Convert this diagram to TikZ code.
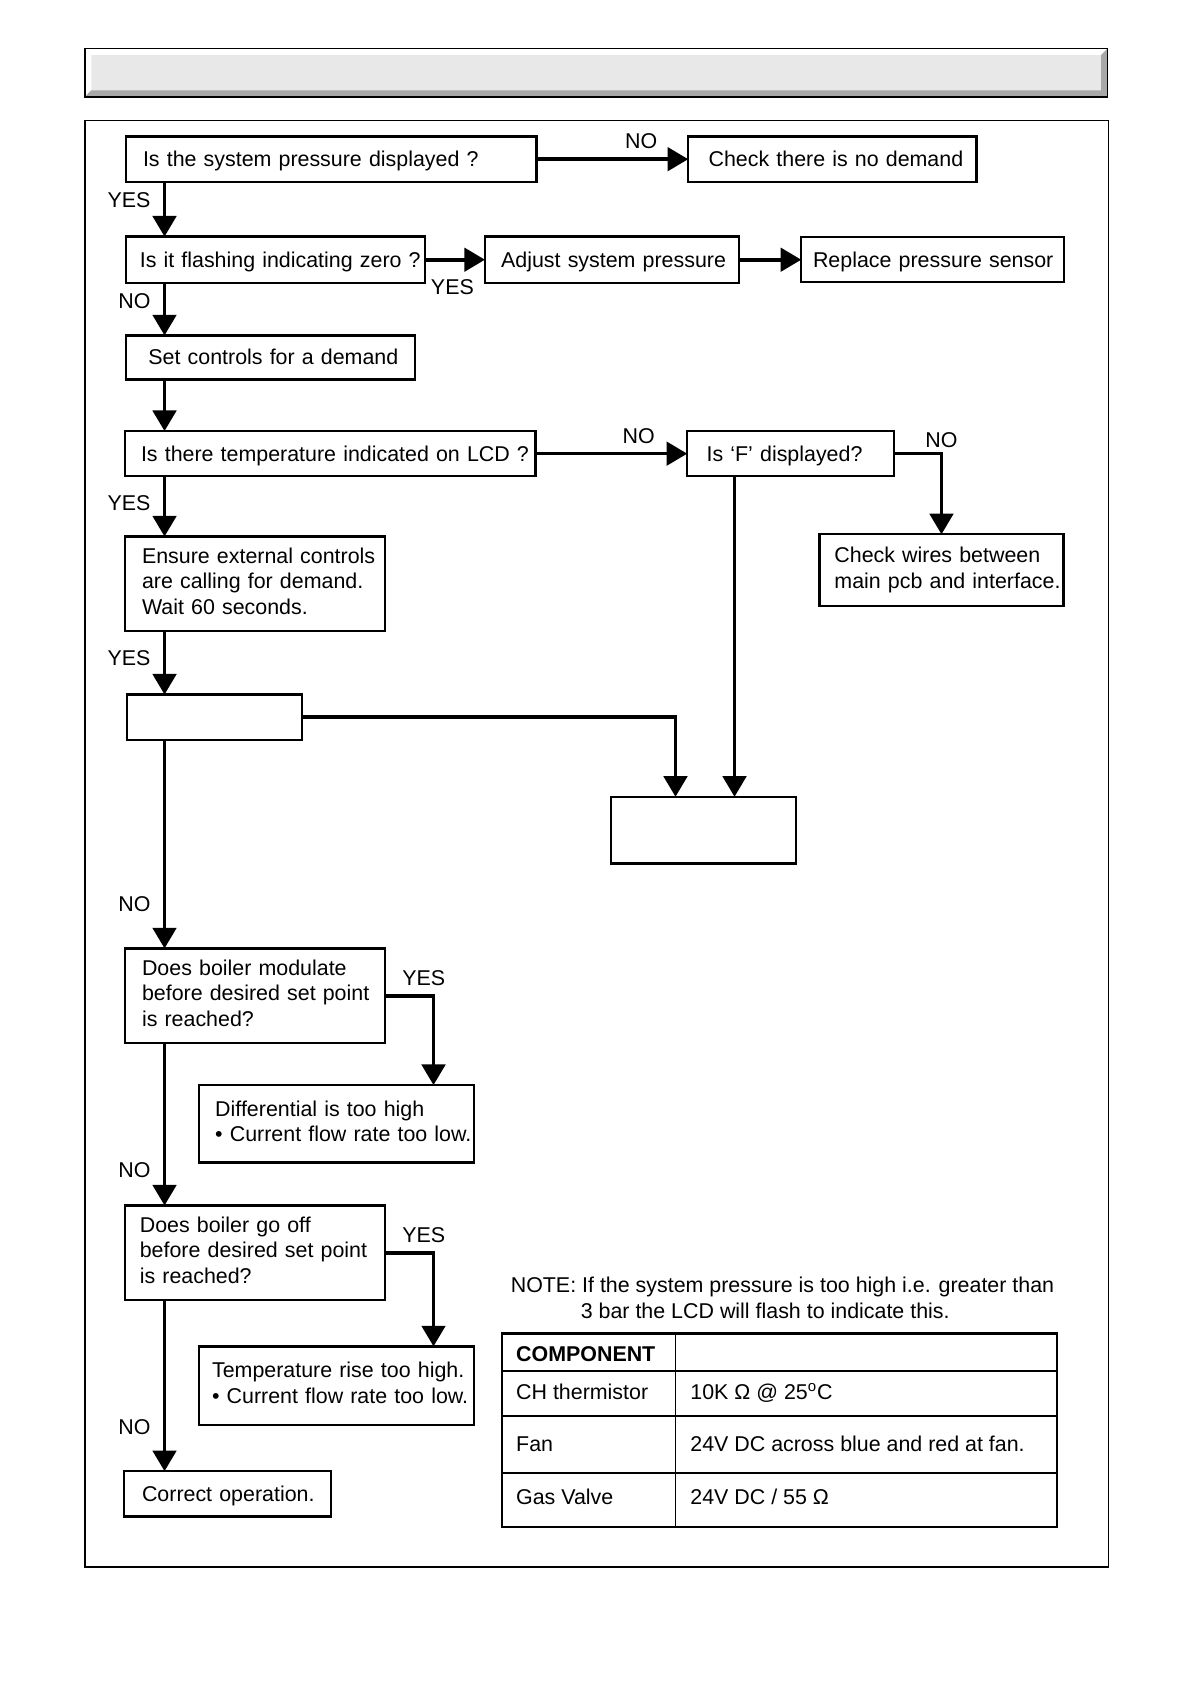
\documentclass[tikz,border=0pt]{standalone}
\usepackage{fontspec}
\setmainfont{Liberation Sans}
\usepackage{tikz}
\usetikzlibrary{positioning}
\usetikzlibrary{arrows.meta}
\definecolor{panelgrey}{HTML}{E8E8E8}
\definecolor{shadegrey}{HTML}{A8A8A8}
\tikzstyle{block} = [rectangle, draw=black, fill=white, line width=1.15pt,
inner ysep=0pt, outer sep=0pt, font=\fontsize{10.7}{12.9}\selectfont]
\tikzstyle{oneline} = [text height=11.6pt, text depth=3.8pt]
\tikzstyle{blank} = [rectangle, draw=black, fill=white, line width=1.15pt, inner sep=0pt, outer sep=0pt]
\tikzstyle{answer} = [inner sep=0pt, outer sep=0pt, font=\fontsize{10.7}{12.9}\selectfont]
\tikzstyle{cell} = [inner sep=0pt, outer sep=0pt, anchor=base west,
font=\fontsize{10.7}{12.9}\selectfont]
\tikzstyle{flow} = [->, line width=1.8pt]
\tikzset{>={Triangle[length=10.3pt,width=11.7pt]}}
% left aligned lines that never wrap inside a block
\newcommand{\boxlines}[1]{\noindent\begin{tabular}{@{}l@{}}#1\end{tabular}}

\begin{document}
\begin{tikzpicture}[x=0.5375pt, y=-0.5375pt]
				\useasboundingbox (0,0) rectangle (1107,1566);
				% title bar
				\fill[panelgrey] (79,45) rectangle (1030,90);
				\fill[white] (79,45) -- (1030,45) -- (1024,51) -- (85,51) -- (85,84) -- (79,90) -- cycle;
				\fill[shadegrey] (1030,45) -- (1030,90) -- (79,90) -- (85,84) -- (1024,84) -- (1024,51) -- cycle;
				\draw[line width=0.8pt] (79,45) rectangle (1030,90);
				\draw[line width=0.7pt] (79,112) rectangle (1031,1457);
				\coordinate (trunk) at (153,0);

				\node[block, oneline, anchor=north west, text width=188.1pt, inner xsep=8.6pt, minimum height=22.6pt] (sysp) at (117,127) {\boxlines{Is the system pressure displayed ?}}; %
				\node[block, oneline, right=75.8pt of sysp, text width=123.7pt, inner xsep=10.2pt, minimum height=22.6pt] (nodemand) {\boxlines{Check there is no demand}}; %
				\node[block, oneline, below=27.4pt of sysp.south west, anchor=north west, text width=135.4pt, inner xsep=7pt, minimum height=23.1pt] (flash) {\boxlines{Is it flashing indicating zero ?}}; %
				\node[block, oneline, right=30.1pt of flash, text width=110.7pt, inner xsep=8.1pt, minimum height=23.1pt] (adjust) {\boxlines{Adjust system pressure}}; %
				\node[block, oneline, right=31.2pt of adjust, text width=119.4pt, inner xsep=5.9pt, minimum height=22.6pt] (sensor) {\boxlines{Replace pressure sensor}}; %
				\node[block, oneline, below=26.3pt of flash.south west, anchor=north west, text width=122pt, inner xsep=11.3pt, minimum height=22pt] (setctl) {\boxlines{Set controls for a demand}}; %
				\node[block, oneline, below=25.8pt of setctl.south west, anchor=north west, xshift=-0.5pt, text width=189.1pt, inner xsep=8.1pt, minimum height=22.6pt] (templcd) {\boxlines{Is there temperature indicated on LCD ?}}; %
				\node[block, oneline, right=75.8pt of templcd, text width=83.8pt, inner xsep=9.7pt, minimum height=22.6pt] (fdisp) {\boxlines{Is ‘F’ displayed?}}; %
				\node[block, below=29pt of fdisp.south east, anchor=north east, xshift=84.9pt, text width=107pt, inner xsep=7.5pt, minimum height=36pt] (wires) {\boxlines{Check wires between\\main pcb and interface.}}; %
				\node[block, below=30.1pt of templcd.south west, anchor=north west, text width=112.9pt, inner xsep=8.6pt, minimum height=47.3pt] (ensure) {\boxlines{Ensure external controls\\are calling for demand.\\Wait 60 seconds.}}; %
				\node[blank, below=31.7pt of ensure.south west, anchor=north west, xshift=1.1pt, minimum width=87.6pt, minimum height=22.6pt] (check1) {}; %
				\node[blank, below=28.5pt of check1.south west, anchor=north west, xshift=241.9pt, minimum width=92.5pt, minimum height=33.3pt] (check2) {}; %
				\node[block, below=104.3pt of check1.south west, anchor=north west, xshift=-1.1pt, text width=112.9pt, inner xsep=8.6pt, minimum height=47.3pt] (modulate) {\boxlines{Does boiler modulate\\before desired set point\\is reached?}}; %
				\node[block, below=21pt of modulate.south west, anchor=north west, xshift=37.1pt, text width=121.4pt, inner xsep=8.1pt, minimum height=38.7pt] (diff) {\boxlines{Differential is too high\\• Current flow rate too low.}}; %
				\node[block, below=81.2pt of modulate.south west, anchor=north west, text width=115.1pt, inner xsep=7.5pt, minimum height=47.3pt] (gooff) {\boxlines{Does boiler go off\\before desired set point\\is reached?}}; %
				\node[block, below=23.1pt of gooff.south west, anchor=north west, xshift=37.1pt, text width=124.6pt, inner xsep=6.5pt, minimum height=39.2pt] (temprise) {\boxlines{Temperature rise too high.\\• Current flow rate too low.}}; %
				\node[block, oneline, below=85.5pt of gooff.south west, anchor=north west, xshift=-0.5pt, text width=85.5pt, inner xsep=9.1pt, minimum height=22.6pt] (correct) {\boxlines{Correct operation.}}; %

				\coordinate (fdrop) at ([xshift=23.65pt]fdisp.south west);
				\coordinate (bjoin) at ([xshift=32.25pt]check2.north west);

				\draw[flow] (sysp) -- (nodemand) node[answer, pos=0.69, above=5pt] (no1) {NO};
				\draw[flow] (sysp.south -| trunk) -- (flash.north -| trunk) node[answer, pos=0.34, left=7pt] (yes1) {YES};
				\draw[flow] (flash) -- (adjust) node[answer, pos=0.46, below=10pt] (yes2) {YES};
				\draw[flow] (adjust) -- (sensor);
				\draw[flow] (flash.south -| trunk) -- (setctl.north -| trunk) node[answer, pos=0.35, left=7pt] (no2) {NO};
				\draw[flow] (setctl.south -| trunk) -- (templcd.north -| trunk);
				\draw[flow] (templcd) -- (fdisp) node[answer, pos=0.68, above=5pt] (no3) {NO};
				\draw[flow] (fdisp.east) -| (wires.north) node[answer, pos=0.5, above=3pt] (no4) {NO};
				\draw[flow] (templcd.south -| trunk) -- (ensure.north -| trunk) node[answer, pos=0.45, left=7pt] (yes3) {YES};
				\draw[flow] (ensure.south -| trunk) -- (check1.north -| trunk) node[answer, pos=0.42, left=7pt] (yes4) {YES};
				\draw[flow] (check1.east) -| (bjoin);
				\draw[flow] (fdrop) -- (fdrop |- check2.north);
				\draw[flow] (check1.south -| trunk) -- (modulate.north -| trunk) node[answer, pos=0.79, left=7pt] (no5) {NO};
				\draw[flow] (modulate.east) -| ([xshift=-20.4pt]diff.north east) node[answer, pos=0.4, above=5pt] (yes5) {YES};
				\draw[flow] (modulate.south -| trunk) -- (gooff.north -| trunk) node[answer, pos=0.78, left=7pt] (no6) {NO};
				\draw[flow] (gooff.east) -| ([xshift=-20.4pt]temprise.north east) node[answer, pos=0.4, above=5pt] (yes6) {YES};
				\draw[flow] (gooff.south -| trunk) -- (correct.north -| trunk) node[answer, pos=0.74, left=7pt] (no7) {NO};

				% note and table
				\node[cell, anchor=west, align=left] (note) at (475,1207) {NOTE: If the system pressure is too high i.e. greater than\\\hspace*{35pt}3 bar the LCD will flash to indicate this.};
				\draw[line width=1.1pt] (467,1240) rectangle (983,1420);
				\draw[line width=0.8pt] (628,1240) -- (628,1420);
				\foreach \r in {1275,1317,1370} \draw[line width=0.8pt] (467,\r) -- (983,\r);
				\node[cell, font=\fontsize{10.7}{12.9}\selectfont\bfseries] (comp) at (480,1266) {COMPONENT};
				\node[cell] (therm) at (480,1301) {CH thermistor};
				\node[cell] (thermval) at (642,1301) {10K Ω @ 25\textsuperscript{o}C};
				\node[cell] (fan) at (480,1350) {Fan};
				\node[cell] (fanval) at (642,1350) {24V DC across blue and red at fan.};
				\node[cell] (gas) at (480,1399) {Gas Valve};
				\node[cell] (gasval) at (642,1399) {24V DC / 55 Ω};
\end{tikzpicture}
\end{document}
